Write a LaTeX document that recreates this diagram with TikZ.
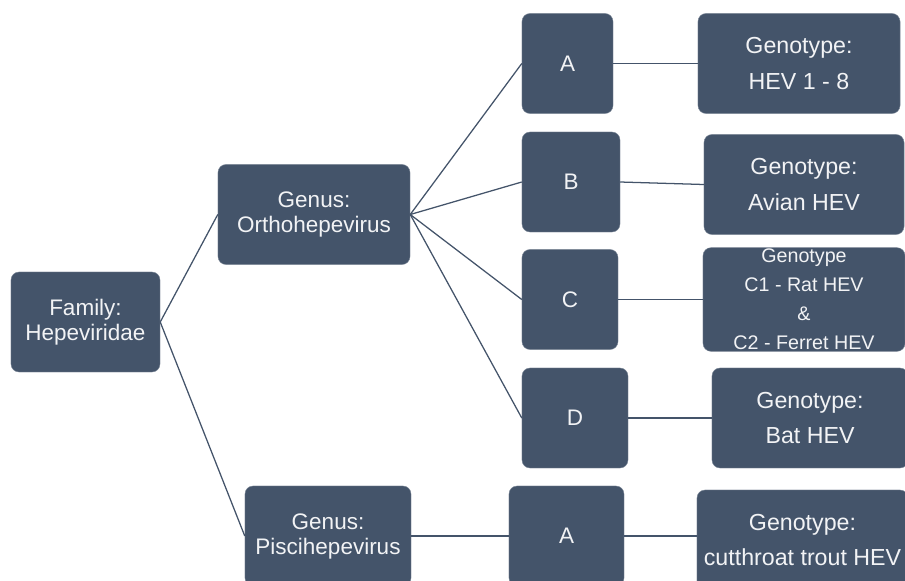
\documentclass[tikz,border=0pt]{standalone}
\usepackage{fontspec}
\setmainfont{Liberation Sans}
\definecolor{slate}{HTML}{44546A}
\begin{document}
\begin{tikzpicture}[x=0.025cm, y=-0.025cm,
    main node/.style={rectangle, rounded corners=0.2cm, fill=slate, draw=slate!70, line width=0.3pt, text=white!93!slate, align=center, inner sep=1pt, minimum height=2.5cm, font=\fontsize{16}{17.8}\selectfont},
    geno node/.style={main node, font=\fontsize{16.5}{25}\selectfont},
    link/.style={draw=slate, line width=0.9pt}]

    \useasboundingbox (0,0) rectangle (905,580);

    % famille et genres
    \node[main node, minimum width=3.725cm] (fam) at (85.5,322) {Family:\\Hepeviridae};
    \node[main node, minimum width=4.8cm] (ortho) at (314,214.5) {Genus:\\Orthohepevirus};
    \node[main node, minimum width=4.15cm] (pisci) at (328,536) {Genus:\\Piscihepevirus};

    \draw[link] (fam.east) -- (ortho.west);
    \draw[link] (fam.east) -- (pisci.west);

    % especes
    \node[main node, minimum width=2.275cm] (a) at (567.5,63.5) {A};
    \node[main node, minimum width=2.45cm] (b) at (571,182) {B};
    \node[main node, minimum width=2.4cm] (c) at (570,299.5) {C};
    \node[main node, minimum width=2.65cm] (d) at (575,418) {D};
    \node[main node, minimum width=2.875cm] (pa) at (566.5,536) {A};

    \draw[link] (ortho.east) -- (a.west);
    \draw[link] (ortho.east) -- (b.west);
    \draw[link] (ortho.east) -- (c.west);
    \draw[link] (ortho.east) -- (d.west);
    \draw[link] (pisci.east) -- (pa.west);

    % genotypes
    \node[geno node, minimum width=5.05cm] (ga) at (799,63.5) {Genotype:\\HEV 1 - 8};
    \node[geno node, minimum width=5cm] (gb) at (804,184.5) {Genotype:\\Avian HEV};
    \node[main node, minimum width=5.05cm, font=\fontsize{14}{20.6}\selectfont] (gc) at (804,299.5) {Genotype\\C1 - Rat HEV\\\&\\C2 - Ferret HEV};
    \node[geno node, minimum width=4.9cm] (gd) at (810,418) {Genotype:\\Bat HEV};
    \node[geno node, minimum width=5.275cm] (gpa) at (802.5,540) {Genotype:\\cutthroat trout HEV};

    \draw[link] (a.east) -- (ga.west);
    \draw[link] (b.east) -- (gb.west);
    \draw[link] (c.east) -- (gc.west);
    \draw[link] (d.east) -- (gd.west);
    \draw[link] (pa.east) -- (pa.east -| gpa.west);
\end{tikzpicture}
\end{document}
